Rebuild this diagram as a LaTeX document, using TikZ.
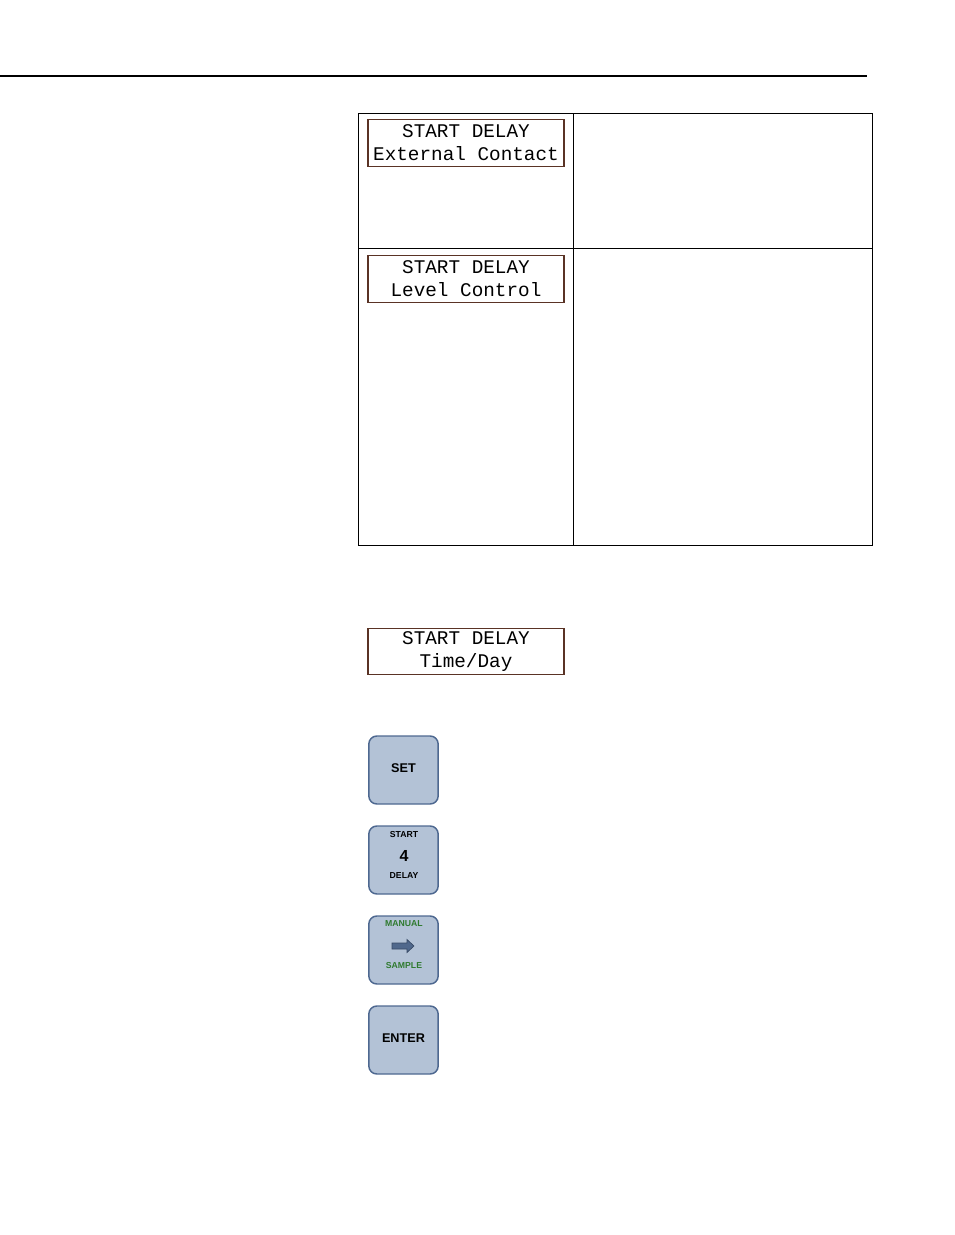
\documentclass[tikz,border=0pt]{standalone}
\usepackage{fontspec}
\setmainfont{Liberation Sans}
\newfontfamily\lcdfont{Liberation Mono}
\usepackage{xcolor}
\usetikzlibrary{positioning}
\definecolor{lcdedge}{HTML}{5A3325}
\definecolor{keyfill}{HTML}{B3C2D6}
\definecolor{keyedge}{HTML}{4E6890}
\definecolor{keygreen}{HTML}{2F7A2F}
\definecolor{arrowfill}{HTML}{50688C}

\begin{document}
\begin{tikzpicture}[x=0.75pt, y=-0.75pt,
  lcd/.style={draw=lcdedge, line width=0.8pt, minimum width=147pt,
    minimum height=35pt, align=center, inner sep=0pt,
    font=\lcdfont\fontsize{14.5}{17.3}\selectfont},
  key/.style={draw=keyedge, fill=keyfill, line width=1.1pt, rounded corners=6pt,
    minimum width=52pt, minimum height=51pt, inner sep=0pt},
  keytext/.style={font=\bfseries\fontsize{9.5}{11}\selectfont},
  small/.style={font=\bfseries\fontsize{6.5}{7.5}\selectfont}
]
\useasboundingbox (0,0) rectangle (954,1235);

% page rule
\draw[line width=1pt] (0,76) -- (867,76);

% table
\draw[line width=0.6pt] (358,113) rectangle (872,545);
\draw[line width=0.6pt] (573,113) -- (573,545);
\draw[line width=0.6pt] (358,248) -- (872,248);

% display screens
\node[lcd] (extcontact) at (466,143) {START DELAY\\External Contact};
\node[lcd] (levelctrl) at (466,279) {START DELAY\\Level Control};
\node[lcd] (timeday) at (466,651.5) {START DELAY\\Time/Day};

% keys
\node[key] (setkey) at (403.5,770) {};
\node[keytext] (setlbl) at (403.5,768) {SET};
\node[key] (startkey) at (403.5,860) {};
\node[small] (startlbl) at (404,835) {START};
\node[font=\bfseries\fontsize{12}{13}\selectfont] (fourlbl) at (404,856) {4};
\node[small] (delaylbl) at (404,876) {DELAY};
\node[key] (manualkey) at (403.5,950) {};
\node[small, text=keygreen] (manuallbl) at (404,924) {MANUAL};
\node[small, text=keygreen] (samplelbl) at (404,966) {SAMPLE};
\draw[fill=arrowfill, draw=keyedge!70!black, line width=0.5pt]
  (392,943) -- (407,943) -- (407,939.5) -- (414,946) -- (407,952.5)
  -- (407,949) -- (392,949) -- cycle;
\node[key] (enterkey) at (403.5,1040) {};
\node[keytext] (enterlbl) at (403.5,1038) {ENTER};

\end{tikzpicture}
\end{document}
